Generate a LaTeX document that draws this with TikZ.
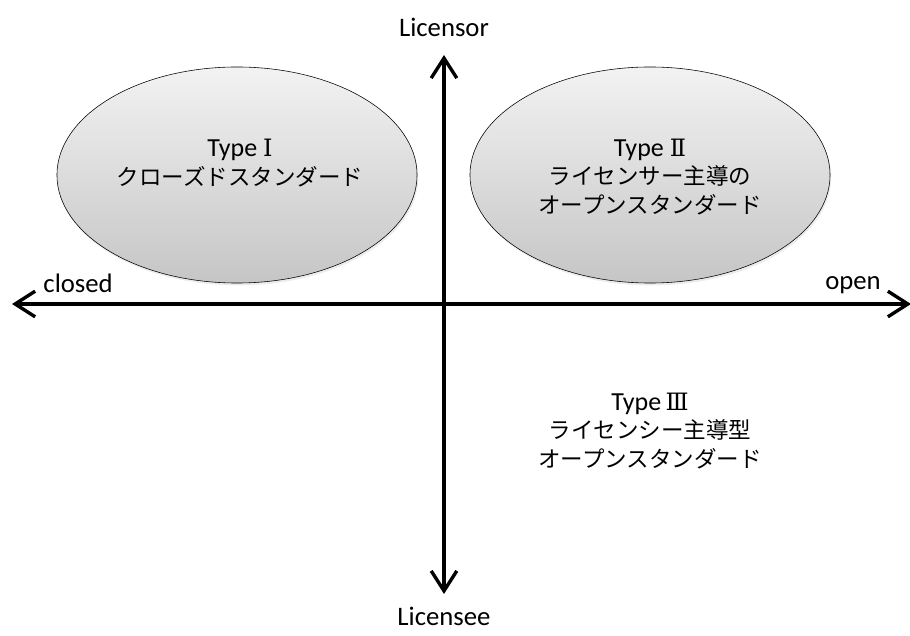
\documentclass[tikz,border=0pt]{standalone}
\usepackage{fontspec}
\setmainfont{Carlito}
\newfontfamily\jpfont{Noto Sans CJK JP}
\newfontfamily\numfont{DejaVu Serif}
\newcommand{\jtext}[1]{{\jpfont\fontsize{16}{20}\selectfont #1}}
\newcommand{\typenum}[1]{{\numfont\fontsize{17}{20}\selectfont #1}}
\usetikzlibrary{arrows.meta, shapes.geometric, positioning, shadows}

\begin{document}
\begin{tikzpicture}[x=0.025cm,y=-0.025cm,
    axis/.style={line width=2.4pt,{Straight Barb[length=0.5cm,width=0.64cm]}-{Straight Barb[length=0.5cm,width=0.64cm]}},
    axis label/.style={inner sep=0pt,font=\fontsize{19}{22}\selectfont},
    type node/.style={ellipse,draw,thin,minimum width=9cm,minimum height=5.4cm,
      top color=gray!10,bottom color=gray!45,
      drop shadow={opacity=0.15,shadow xshift=0.03cm,shadow yshift=-0.06cm}},
    type text/.style={align=center,font=\fontsize{18.5}{20}\selectfont}]
  \useasboundingbox (0,0) rectangle (910,636);

  % the two licensor-side types
  \node[type node] (type1) at (237,175) {};
  \node[type node] (type2) at (650,175) {};
  \node[type text] (type1 text) at (240,163) {Type \typenum{Ⅰ}\\ \jtext{クローズドスタンダード}};
  \node[type text] (type2 text) at (650,177) {Type \typenum{Ⅱ}\\ \jtext{ライセンサー主導の}\\ \jtext{オープンスタンダード}};
  \node[type text] (type3 text) at (650,431) {Type\,\typenum{Ⅲ}\\ \jtext{ライセンシー主導型}\\ \jtext{オープンスタンダード}};

  % axes
  \coordinate (top end) at (444,55);
  \coordinate (bottom end) at (444,594);
  \coordinate (left end) at (12,304);
  \coordinate (right end) at (911,304);
  \draw[axis] (bottom end) -- (top end);
  \draw[axis] (left end) -- (right end);

  \node[axis label, above=0.45cm of top end] (licensor) {Licensor};
  \node[axis label, below=0.33cm of bottom end] (licensee) {Licensee};
  \node[axis label, above right=0.28cm and 0.78cm of left end] (closed) {closed};
  \node[axis label, above left=0.26cm and 0.75cm of right end] (open) {open};
\end{tikzpicture}
\end{document}
